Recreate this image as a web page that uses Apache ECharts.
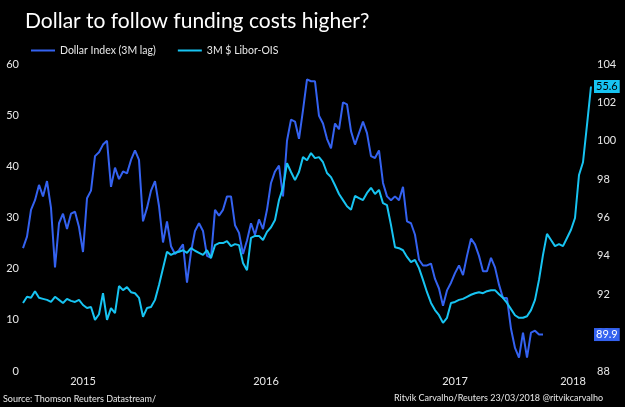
<!DOCTYPE html>
<html>
<head>
<meta charset="utf-8">
<script src="https://cdn.jsdelivr.net/npm/echarts@6/dist/echarts.min.js"></script>
<style>
  html, body { margin: 0; padding: 0; background: #000; }
  #chart { width: 625px; height: 407px; }
</style>
</head>
<body>
<div id="chart"></div>
<script>
// sample index along the x axis (one step ~ one week)
const yearLabels = ['2015', '2016', '2017', '2018'];
const yearPos = [15, 60.75, 108, 137.5];

// 3M $ Libor-OIS, basis points (left axis)
const liborOis = [
  13.3, 14.5, 14.3, 15.6, 14.3, 14.1, 13.9, 13.5, 14.5, 13.9,
  13.3, 14.1, 13.7, 13.5, 13.9, 12.9, 12.3, 12.5, 10.0, 11.1,
  15.2, 10.0, 12.3, 11.3, 16.6, 15.8, 16.4, 15.4, 15.2, 14.3,
  10.6, 12.3, 12.5, 13.9, 16.8, 20.1, 23.3, 22.7, 23.1, 23.3,
  23.6, 23.1, 24.0, 23.5, 23.1, 22.7, 23.6, 22.1, 24.6, 25.0,
  25.0, 25.4, 24.4, 24.8, 24.6, 21.1, 19.7, 26.0, 26.4, 26.4,
  25.6, 27.2, 28.1, 29.5, 33.4, 35.8, 40.6, 38.9, 37.3, 38.9,
  41.8, 41.2, 42.6, 41.6, 41.8, 40.8, 38.7, 37.9, 36.3, 34.6,
  33.4, 32.2, 31.5, 34.2, 33.8, 33.4, 34.8, 35.8, 34.6, 35.4,
  32.8, 32.4, 28.5, 24.2, 24.0, 23.6, 22.3, 21.3, 21.7, 20.1,
  17.8, 15.4, 13.3, 11.9, 10.9, 9.4, 10.4, 13.3, 13.5, 13.9,
  14.1, 14.5, 14.9, 15.2, 15.4, 15.2, 15.6, 15.8, 15.8, 15.0,
  14.3, 13.3, 12.1, 10.9, 10.4, 10.4, 10.7, 11.9, 13.9, 17.8,
  22.7, 26.8, 25.6, 24.4, 24.8, 24.4, 26.0, 27.6, 29.9, 38.3,
  40.8, 48.1, 55.6
];

// Dollar Index, 3 months lag (right axis)
const dollarIdx = [
  94.4, 95.0, 96.4, 96.9, 97.7, 97.1, 97.9, 96.5, 93.4, 95.7,
  96.2, 95.4, 96.2, 96.3, 95.5, 94.2, 97.0, 97.4, 99.2, 99.4,
  99.8, 100.0, 97.6, 98.6, 98.0, 98.4, 98.3, 99.0, 99.5, 99.0,
  95.8, 96.5, 97.4, 97.9, 96.6, 94.7, 95.8, 94.5, 94.1, 94.3,
  94.6, 92.6, 94.2, 95.3, 95.7, 95.3, 94.0, 93.9, 96.4, 96.1,
  96.4, 97.1, 97.1, 95.6, 95.2, 94.1, 94.8, 95.7, 95.1, 95.9,
  95.4, 96.4, 97.8, 98.4, 98.7, 97.1, 100.0, 101.1, 101.0, 100.1,
  101.6, 103.2, 103.1, 103.1, 101.3, 100.9, 100.1, 99.6, 100.9, 100.6,
  102.0, 101.9, 100.5, 99.8, 100.4, 101.0, 100.4, 99.2, 99.1, 99.5,
  97.8, 97.1, 96.9, 97.1, 96.9, 97.6, 95.8, 95.7, 95.1, 93.8,
  93.5, 93.5, 93.6, 92.8, 92.3, 91.4, 92.2, 92.6, 93.1, 93.5,
  93.0, 94.0, 94.9, 94.6, 94.0, 93.2, 93.2, 93.9, 93.4, 92.5,
  91.8, 91.8, 90.2, 89.2, 88.7, 90.0, 88.7, 90.0, 90.1, 89.9,
  89.9
];

const blue = '#3462f0';
const cyan = '#17c4f2';
const txt = '#e8e8e8';
const font = 'Lato, "Open Sans", sans-serif';

let myChart = echarts.init(document.getElementById('chart'));
let option = {
    backgroundColor: '#000',
    animation: false,
    textStyle: { fontFamily: font },
    title: {
        text: 'Dollar to follow funding costs higher?',
        left: 20,
        top: 6,
        textStyle: { color: '#fff', fontSize: 21, fontWeight: 'normal', fontFamily: font }
    },
    legend: {
        left: 26,
        top: 40,
        itemWidth: 24,
        itemHeight: 2,
        itemGap: 22,
        icon: 'rect',
        textStyle: { color: txt, fontSize: 10.5 },
        data: ['Dollar Index (3M lag)', '3M $ Libor-OIS']
    },
    grid: { left: 23, right: 34, top: 64, bottom: 36 },
    xAxis: {
        type: 'value',
        min: 0,
        max: 142,
        splitLine: { show: false },
        axisLine: { show: false },
        axisTick: { show: false },
        axisLabel: {
            customValues: yearPos,
            color: txt,
            fontSize: 11,
            margin: 5,
            formatter: function (v) {
                let k = yearPos.indexOf(v);
                return k >= 0 ? yearLabels[k] : '';
            }
        }
    },
    yAxis: [
        {
            type: 'value',
            position: 'left',
            min: 0, max: 60, interval: 10,
            splitLine: { show: false },
            axisLine: { show: false },
            axisTick: { show: false },
            axisLabel: { color: txt, fontSize: 11, margin: 4 }
        },
        {
            type: 'value',
            position: 'right',
            min: 88, max: 104, interval: 2,
            splitLine: { show: false },
            axisLine: { show: false },
            axisTick: { show: false },
            axisLabel: { color: txt, fontSize: 11, margin: 6 }
        }
    ],
    series: [
        {
            name: 'Dollar Index (3M lag)',
            type: 'line',
            yAxisIndex: 1,
            symbol: 'none',
            color: blue,
            lineStyle: { width: 2 },
            data: dollarIdx.map((v, i) => [i, v]),
            endLabel: {
                show: true,
                distance: 51,
                formatter: p => p.value[1].toFixed(1),
                backgroundColor: blue,
                color: '#fff',
                fontSize: 11,
                padding: [1, 2]
            }
        },
        {
            name: '3M $ Libor-OIS',
            type: 'line',
            yAxisIndex: 0,
            symbol: 'none',
            color: cyan,
            lineStyle: { width: 2 },
            data: liborOis.map((v, i) => [i, v]),
            endLabel: {
                show: true,
                distance: 3,
                formatter: p => p.value[1].toFixed(1),
                backgroundColor: cyan,
                color: '#000',
                fontSize: 11,
                padding: [1, 2]
            }
        }
    ],
    graphic: [
        {
            type: 'text', left: 3, top: 395,
            style: { text: 'Source: Thomson Reuters Datastream/', fill: txt, fontSize: 9, fontFamily: font }
        },
        {
            type: 'text', right: 22, top: 394,
            style: { text: 'Ritvik Carvalho/Reuters 23/03/2018 @ritvikcarvalho', fill: txt, fontSize: 9, fontFamily: font }
        }
    ]
};
myChart.setOption(option);
</script>
</body>
</html>
